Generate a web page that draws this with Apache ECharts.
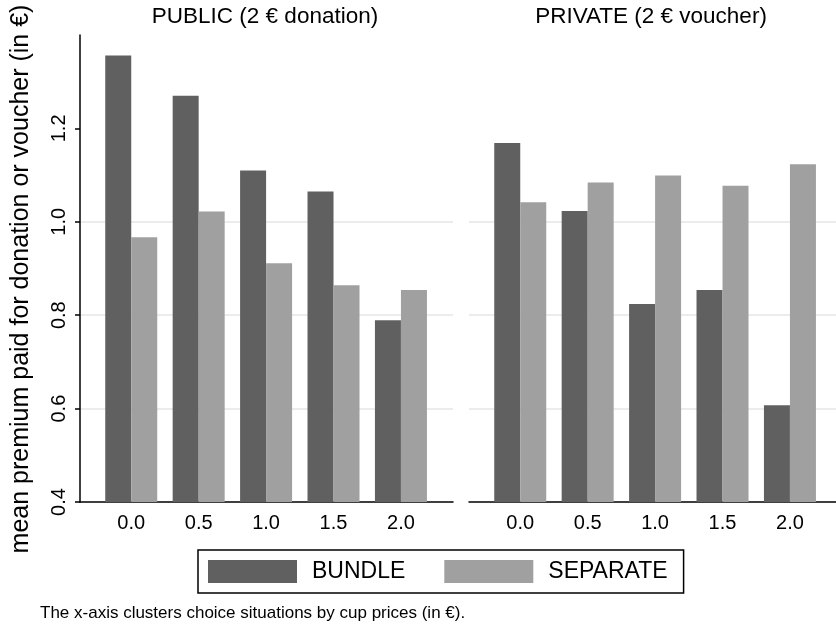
<!DOCTYPE html>
<html>
<head>
<meta charset="utf-8">
<script src="https://cdn.jsdelivr.net/npm/echarts@6/dist/echarts.min.js"></script>
<style>
  html, body { margin: 0; padding: 0; background: #fff; }
  #chart { width: 836px; height: 627px; }
</style>
</head>
<body>
<div id="chart"></div>
<script>
// Cup prices (in €) that cluster the choice situations
const cupPrices = ['0.0', '0.5', '1.0', '1.5', '2.0'];

// Mean premium paid, PUBLIC condition (2 € donation)
const publicBundle   = [1.356, 1.270, 1.110, 1.065, 0.789];
const publicSeparate = [0.967, 1.022, 0.911, 0.864, 0.854];

// Mean premium paid, PRIVATE condition (2 € voucher)
const privateBundle   = [1.169, 1.023, 0.824, 0.854, 0.607];
const privateSeparate = [1.042, 1.084, 1.099, 1.077, 1.123];

const yTicks = [0.4, 0.6, 0.8, 1.0, 1.2];
const panelTitles = ['PUBLIC (2 € donation)', 'PRIVATE (2 € voucher)'];
const seriesNames = ['BUNDLE', 'SEPARATE'];
const yTitle = 'mean premium paid for donation or voucher (in €)';
const note = 'The x-axis clusters choice situations by cup prices (in €).';

const FONT = '"Liberation Sans", Arial, Helvetica, sans-serif';
const DARK = '#606060';
const LIGHT = '#a0a0a0';
const GRIDLINE = '#e6e6e6';

const xs = cupPrices.map(Number);
const pairs = vals => vals.map((v, i) => [xs[i], v]);

const grids = [
  { left: 80,  top: 35, width: 373, height: 467 },
  { left: 469, top: 35, width: 367, height: 467 }
];
const pxPerUnit = 134.85;
const xMin = -0.38;

const chart = echarts.init(document.getElementById('chart'), null, { renderer: 'canvas' });

const xAxes = grids.map((g, i) => ({
  type: 'value',
  gridIndex: i,
  min: xMin,
  max: xMin + g.width / pxPerUnit,
  axisLine: { show: true, onZero: false, lineStyle: { color: '#000', width: 1.5 } },
  axisTick: { show: false },
  splitLine: { show: false },
  axisLabel: {
    customValues: xs,
    formatter: v => cupPrices[xs.indexOf(v)],
    fontSize: 20,
    color: '#000',
    fontFamily: FONT,
    margin: 11
  }
}));

const yAxes = grids.map((g, i) => ({
  type: 'value',
  gridIndex: i,
  min: 0.4,
  max: 1.4,
  interval: 0.2,
  axisLine: { show: i === 0, onZero: false, lineStyle: { color: '#000', width: 1.5 } },
  axisTick: { show: i === 0, length: 5, customValues: yTicks, lineStyle: { color: '#000', width: 1.5 } },
  axisLabel: {
    show: i === 0,
    customValues: yTicks,
    rotate: 90,
    formatter: v => v.toFixed(1),
    fontSize: 20,
    color: '#000',
    fontFamily: FONT,
    margin: 11
  },
  splitLine: {
    show: true,
    showMinLine: false,
    showMaxLine: false,
    lineStyle: { color: GRIDLINE, width: 1.5 }
  }
}));

const barSeries = (name, vals, panel, color) => ({
  type: 'bar',
  name,
  xAxisIndex: panel,
  yAxisIndex: panel,
  data: pairs(vals),
  barWidth: 26,
  barGap: '0%',
  itemStyle: { color },
  emphasis: { disabled: true },
  animation: false
});

chart.setOption({
  backgroundColor: '#fff',
  animation: false,
  grid: grids,
  xAxis: xAxes,
  yAxis: yAxes,
  legend: {
    data: seriesNames,
    left: 198,
    top: 550,
    orient: 'horizontal',
    icon: 'rect',
    itemWidth: 89,
    itemHeight: 23,
    itemGap: 39,
    padding: [10, 16, 10, 10],
    borderColor: '#000',
    borderWidth: 1.5,
    selectedMode: false,
    textStyle: { fontSize: 23, color: '#000', fontFamily: FONT, padding: [0, 0, 0, 10], lineHeight: 23 }
  },
  series: [
    barSeries(seriesNames[0], publicBundle, 0, DARK),
    barSeries(seriesNames[1], publicSeparate, 0, LIGHT),
    barSeries(seriesNames[0], privateBundle, 1, DARK),
    barSeries(seriesNames[1], privateSeparate, 1, LIGHT)
  ],
  graphic: [
    {
      type: 'text', x: 265, y: 17,
      style: { text: panelTitles[0], fontSize: 22.5, fontFamily: FONT, fill: '#000', align: 'center', verticalAlign: 'middle' }
    },
    {
      type: 'text', x: 651, y: 17,
      style: { text: panelTitles[1], fontSize: 22.5, fontFamily: FONT, fill: '#000', align: 'center', verticalAlign: 'middle' }
    },
    {
      type: 'text', x: 21, y: 279, rotation: Math.PI / 2,
      style: { text: yTitle, fontSize: 25, fontFamily: FONT, fill: '#000', align: 'center', verticalAlign: 'middle' }
    },
    {
      type: 'text', x: 40, y: 613,
      style: { text: note, fontSize: 17, fontFamily: FONT, fill: '#000', align: 'left', verticalAlign: 'middle' }
    }
  ]
});
</script>
</body>
</html>
